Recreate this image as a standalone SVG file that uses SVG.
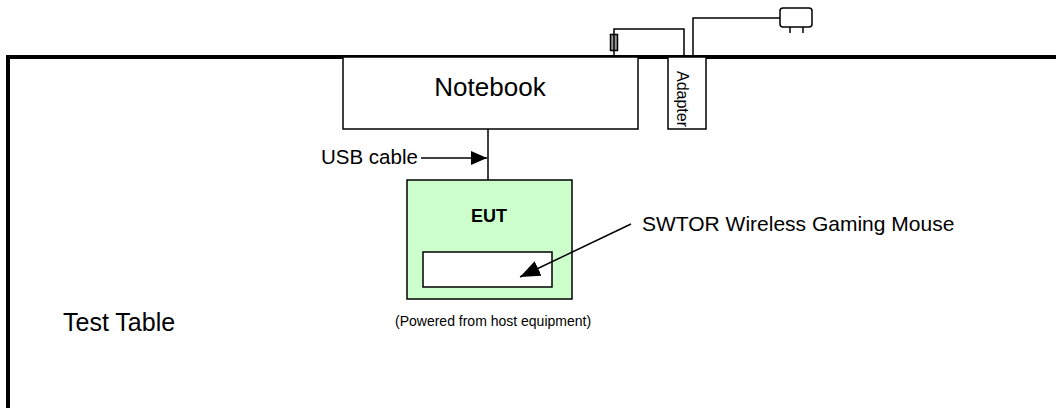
<svg xmlns="http://www.w3.org/2000/svg" width="1056" height="408" viewBox="0 0 1056 408">
<style>
text{font-family:"Liberation Sans",Arial,sans-serif;fill:#000}
.box{fill:#fff;stroke:#000;stroke-width:1.5}
.ln{fill:none;stroke:#000;stroke-width:1.5}
</style>
<defs>
<marker id="ah" markerWidth="16" markerHeight="14" refX="16" refY="7" orient="auto" markerUnits="userSpaceOnUse">
<path d="M0,0 L16,7 L0,14 Z" fill="#000"/>
</marker>
<marker id="ah2" markerWidth="20" markerHeight="16" refX="20" refY="8" orient="auto" markerUnits="userSpaceOnUse">
<path d="M0,0 L20,8 L0,16 Z" fill="#000"/>
</marker>
</defs>
<rect width="1056" height="408" fill="#fff"/>
<g id="table">
<path d="M8,408 V57 H1056" fill="none" stroke="#000" stroke-width="4"/>
<text x="63" y="331" font-size="25">Test Table</text>
</g>
<g id="plug1">
<rect x="610.5" y="34.5" width="7" height="16" fill="#999" stroke="#000" stroke-width="1.5"/>
</g>
<g id="plug2">
<rect x="780" y="8" width="32" height="19" rx="3" fill="#fff" stroke="#000" stroke-width="1.5"/>
</g>
<g id="notebook">
<rect class="box" x="343" y="57" width="295" height="72"/>
<text x="490" y="96" font-size="26" text-anchor="middle">Notebook</text>
</g>
<g id="adapter">
<rect class="box" x="668" y="57" width="38" height="72"/>
<text transform="translate(677,71) rotate(90)" font-size="16">Adapter</text>
</g>
<g id="eut">
<rect x="407" y="180" width="165" height="119" fill="#ccffcc" stroke="#000" stroke-width="1.5"/>
<text x="489" y="222" font-size="18" font-weight="bold" text-anchor="middle">EUT</text>
<rect class="box" x="423" y="252" width="129" height="35"/>
</g>
<g id="connectors">
<line class="ln" x1="488" y1="129" x2="488" y2="180"/>
<line class="ln" x1="421" y1="158" x2="487" y2="158" marker-end="url(#ah)"/>
<line class="ln" x1="631" y1="224" x2="520" y2="277" marker-end="url(#ah2)"/>
<path class="ln" d="M684,57 V29 H614 V57"/>
<path class="ln" d="M693,57 V18 H780"/>
<line class="ln" x1="790" y1="27" x2="790" y2="33"/>
<line class="ln" x1="803" y1="27" x2="803" y2="33"/>
</g>
<text x="321" y="164" font-size="20.5">USB cable</text>
<text x="642" y="231" font-size="21">SWTOR Wireless Gaming Mouse</text>
<text x="395" y="326" font-size="14">(Powered from host equipment)</text>
</svg>
